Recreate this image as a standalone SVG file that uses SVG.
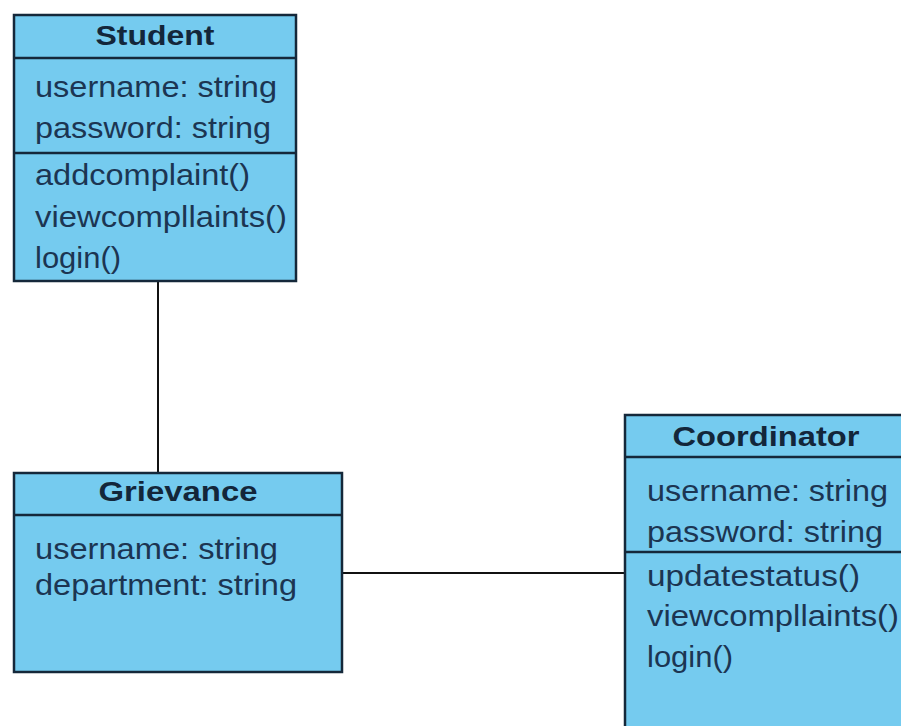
<svg xmlns="http://www.w3.org/2000/svg" width="901" height="726" viewBox="0 0 901 726">
<style>
.box{fill:#75cbef;stroke:#15283a;stroke-width:2.5}
.div{stroke:#15283a;stroke-width:2.5}
.t{font-family:"Liberation Sans",Arial,sans-serif;font-size:29px;fill:#1c3552}
.h{font-family:"Liberation Sans",Arial,sans-serif;font-size:27px;font-weight:bold;fill:#13263a;text-anchor:middle}
.c{stroke:#111;stroke-width:2;fill:none}
</style>
<rect width="901" height="726" fill="#fff"/>
<g id="connectors">
<line class="c" x1="158" y1="281" x2="158" y2="473"/>
<line class="c" x1="342" y1="573" x2="625" y2="573"/>
</g>
<g id="student">
<rect class="box" x="14" y="15" width="282" height="266"/>
<line class="div" x1="14" y1="58" x2="296" y2="58"/>
<line class="div" x1="14" y1="153" x2="296" y2="153"/>
<text class="h" x="155" y="45" textLength="119" lengthAdjust="spacingAndGlyphs">Student</text>
<text class="t" x="35" y="97" textLength="242" lengthAdjust="spacingAndGlyphs">username: string</text>
<text class="t" x="35" y="138" textLength="236" lengthAdjust="spacingAndGlyphs">password: string</text>
<text class="t" x="35" y="185" textLength="215" lengthAdjust="spacingAndGlyphs">addcomplaint()</text>
<text class="t" x="35" y="227" textLength="252" lengthAdjust="spacingAndGlyphs">viewcompllaints()</text>
<text class="t" x="35" y="268" textLength="86" lengthAdjust="spacingAndGlyphs">login()</text>
</g>
<g id="grievance">
<rect class="box" x="14" y="473" width="328" height="199"/>
<line class="div" x1="14" y1="515" x2="342" y2="515"/>
<text class="h" x="178" y="501" textLength="159" lengthAdjust="spacingAndGlyphs">Grievance</text>
<text class="t" x="35" y="559" textLength="243" lengthAdjust="spacingAndGlyphs">username: string</text>
<text class="t" x="35" y="595" textLength="262" lengthAdjust="spacingAndGlyphs">department: string</text>
</g>
<g id="coordinator">
<rect class="box" x="625" y="415" width="290" height="330"/>
<line class="div" x1="625" y1="457" x2="915" y2="457"/>
<line class="div" x1="625" y1="552" x2="915" y2="552"/>
<text class="h" x="766" y="446" textLength="187" lengthAdjust="spacingAndGlyphs">Coordinator</text>
<text class="t" x="647" y="501" textLength="241" lengthAdjust="spacingAndGlyphs">username: string</text>
<text class="t" x="647" y="542" textLength="236" lengthAdjust="spacingAndGlyphs">password: string</text>
<text class="t" x="647" y="586" textLength="213" lengthAdjust="spacingAndGlyphs">updatestatus()</text>
<text class="t" x="647" y="626" textLength="252" lengthAdjust="spacingAndGlyphs">viewcompllaints()</text>
<text class="t" x="647" y="667" textLength="86" lengthAdjust="spacingAndGlyphs">login()</text>
</g>
</svg>
